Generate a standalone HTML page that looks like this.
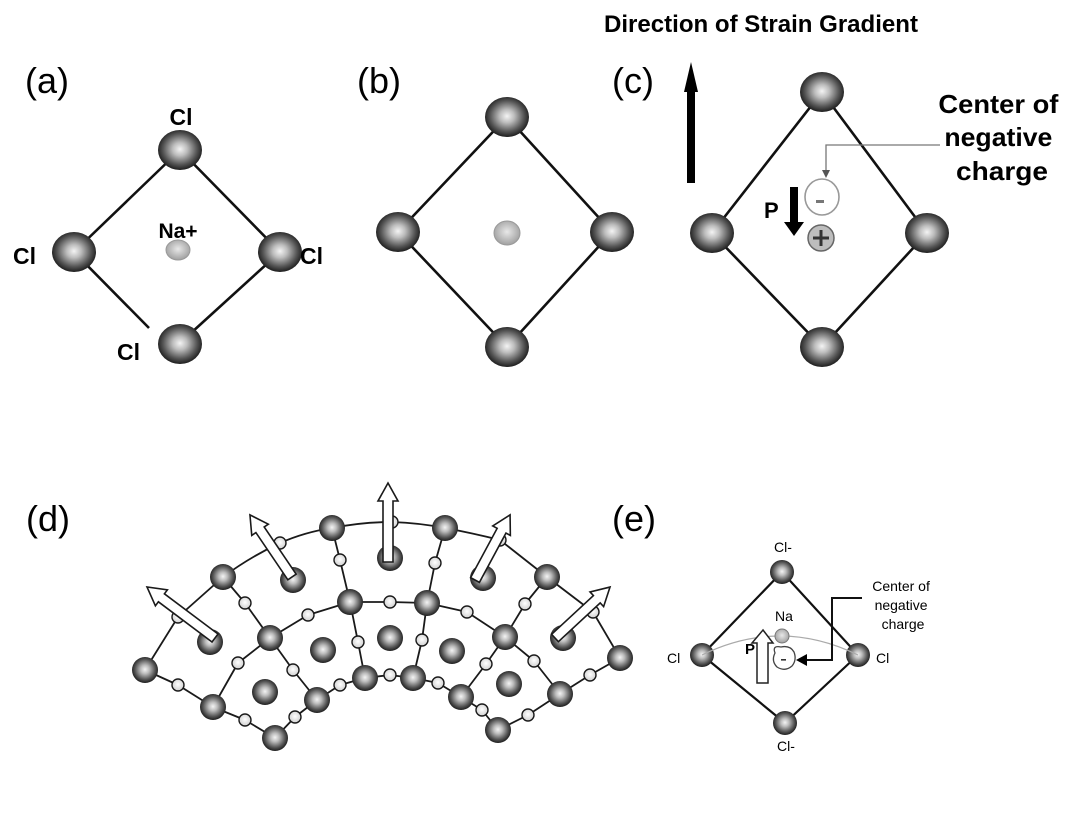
<!DOCTYPE html>
<html>
<head>
<meta charset="utf-8">
<style>
html,body{margin:0;padding:0;background:#fff;}
body{width:1071px;height:817px;overflow:hidden;}
svg{display:block;}
text{font-family:"Liberation Sans",Arial,sans-serif;fill:#000;}
</style>
</head>
<body>
<svg width="1071" height="817" viewBox="0 0 1071 817" xmlns="http://www.w3.org/2000/svg">
<defs>
  <radialGradient id="big" cx="50%" cy="48%" r="55%">
    <stop offset="0" stop-color="#f4f4f4"/>
    <stop offset="0.3" stop-color="#bdbdbd"/>
    <stop offset="0.7" stop-color="#555"/>
    <stop offset="1" stop-color="#111"/>
  </radialGradient>
  <radialGradient id="na" cx="50%" cy="45%" r="55%">
    <stop offset="0" stop-color="#e8e8e8"/>
    <stop offset="1" stop-color="#a0a0a0"/>
  </radialGradient>
  <radialGradient id="sm" cx="50%" cy="45%" r="55%">
    <stop offset="0" stop-color="#ffffff"/>
    <stop offset="1" stop-color="#d0d0d0"/>
  </radialGradient>
</defs>
<rect width="1071" height="817" fill="#fff"/>

<!-- Panel labels -->
<text x="25" y="93" font-size="36">(a)</text>
<text x="357" y="93" font-size="36">(b)</text>
<text x="612" y="93" font-size="36">(c)</text>
<text x="26" y="531" font-size="36">(d)</text>
<text x="612" y="531" font-size="36">(e)</text>

<!-- (a) -->
<g stroke="#111" stroke-width="2.6" fill="none">
  <line x1="180" y1="150" x2="74" y2="252"/>
  <line x1="180" y1="150" x2="280" y2="252"/>
  <line x1="74" y1="252" x2="149" y2="328"/>
  <line x1="280" y1="252" x2="180" y2="343"/>
</g>
<ellipse cx="180" cy="150" rx="22" ry="20" fill="url(#big)"/>
<ellipse cx="74" cy="252" rx="22" ry="20" fill="url(#big)"/>
<ellipse cx="280" cy="252" rx="22" ry="20" fill="url(#big)"/>
<ellipse cx="180" cy="344" rx="22" ry="20" fill="url(#big)"/>
<ellipse cx="178" cy="250" rx="12" ry="10" fill="url(#na)" stroke="#999" stroke-width="1"/>
<text x="181" y="125" font-size="23" text-anchor="middle" font-weight="bold">Cl</text>
<text x="178" y="238" font-size="21" text-anchor="middle" font-weight="bold">Na+</text>
<text x="13" y="264" font-size="23" font-weight="bold">Cl</text>
<text x="300" y="264" font-size="23" font-weight="bold">Cl</text>
<text x="117" y="360" font-size="23" font-weight="bold">Cl</text>

<!-- (b) -->
<g stroke="#111" stroke-width="2.6" fill="none">
  <polygon points="507,117 612,232 507,347 398,232"/>
</g>
<ellipse cx="507" cy="117" rx="22" ry="20" fill="url(#big)"/>
<ellipse cx="398" cy="232" rx="22" ry="20" fill="url(#big)"/>
<ellipse cx="612" cy="232" rx="22" ry="20" fill="url(#big)"/>
<ellipse cx="507" cy="347" rx="22" ry="20" fill="url(#big)"/>
<ellipse cx="507" cy="233" rx="13" ry="12" fill="url(#na)" stroke="#999" stroke-width="1"/>

<!-- (c) -->
<text x="604" y="32" font-size="24" font-weight="bold" textLength="314" lengthAdjust="spacingAndGlyphs">Direction of Strain Gradient</text>
<rect x="687" y="88" width="8" height="95" fill="#000"/>
<polygon points="691,62 684,92 698,92" fill="#000"/>
<g stroke="#111" stroke-width="2.6" fill="none">
  <polygon points="822,92 927,233 822,347 712,233"/>
</g>
<ellipse cx="822" cy="92" rx="22" ry="20" fill="url(#big)"/>
<ellipse cx="712" cy="233" rx="22" ry="20" fill="url(#big)"/>
<ellipse cx="927" cy="233" rx="22" ry="20" fill="url(#big)"/>
<ellipse cx="822" cy="347" rx="22" ry="20" fill="url(#big)"/>
<!-- callout -->
<polyline points="940,145 826,145 826,172" fill="none" stroke="#777" stroke-width="1.3"/>
<polygon points="822,170 830,170 826,178" fill="#555"/>
<ellipse cx="822" cy="197" rx="17" ry="18" fill="#fff" stroke="#999" stroke-width="1.6"/>
<rect x="816" y="200" width="8" height="3" fill="#777"/>
<circle cx="821" cy="238" r="13" fill="#bdbdbd" stroke="#666" stroke-width="1.5"/>
<rect x="813" y="236.5" width="16" height="3" fill="#333"/>
<rect x="819.5" y="230" width="3" height="16" fill="#333"/>
<text x="764" y="218" font-size="22" font-weight="bold">P</text>
<rect x="790" y="187" width="8" height="36" fill="#000"/>
<polygon points="784,222 804,222 794,236" fill="#000"/>
<text font-size="26" font-weight="bold" text-anchor="middle">
  <tspan x="1002" y="113" textLength="120" lengthAdjust="spacingAndGlyphs">Center of</tspan>
  <tspan x="1002" y="146" textLength="108" lengthAdjust="spacingAndGlyphs">negative</tspan>
  <tspan x="1002" y="180" textLength="92" lengthAdjust="spacingAndGlyphs">charge</tspan>
</text>

<!-- (d) lattice -->
<g stroke="#1a1a1a" stroke-width="1.8" fill="none" stroke-linejoin="round">
  <path d="M145,670 L178,617 L223,577 Q250,557 280,543 Q305,532 332,528 Q362,522 392,522 Q420,523 445,528 Q472,533 500,540 L547,577 L593,612 L620,658"/>
  <polyline points="145,670 178,685 213,707 245,720 275,738 295,717 317,700 340,685 365,678 390,675 413,678 438,683 461,697 482,710 498,730 528,715 560,694 590,675 620,658"/>
  <polyline points="223,577 245,603 270,638 238,663 213,707"/>
  <polyline points="270,638 293,670 317,700"/>
  <polyline points="270,638 308,615 350,602 390,602 427,603 467,612 505,637"/>
  <polyline points="332,528 340,560 350,602 358,642 365,678"/>
  <polyline points="445,528 435,563 427,603 422,640 413,678"/>
  <polyline points="547,577 525,604 505,637 486,664 461,697"/>
  <polyline points="505,637 534,661 560,694"/>
</g>
<g fill="url(#sm)" stroke="#1a1a1a" stroke-width="1.4">
  <circle cx="178" cy="617" r="6"/>
  <circle cx="280" cy="543" r="6"/>
  <circle cx="392" cy="522" r="6"/>
  <circle cx="500" cy="540" r="6"/>
  <circle cx="593" cy="612" r="6"/>
  <circle cx="178" cy="685" r="6"/>
  <circle cx="245" cy="720" r="6"/>
  <circle cx="295" cy="717" r="6"/>
  <circle cx="340" cy="685" r="6"/>
  <circle cx="390" cy="675" r="6"/>
  <circle cx="438" cy="683" r="6"/>
  <circle cx="482" cy="710" r="6"/>
  <circle cx="528" cy="715" r="6"/>
  <circle cx="590" cy="675" r="6"/>
  <circle cx="245" cy="603" r="6"/>
  <circle cx="238" cy="663" r="6"/>
  <circle cx="293" cy="670" r="6"/>
  <circle cx="308" cy="615" r="6"/>
  <circle cx="390" cy="602" r="6"/>
  <circle cx="467" cy="612" r="6"/>
  <circle cx="340" cy="560" r="6"/>
  <circle cx="358" cy="642" r="6"/>
  <circle cx="435" cy="563" r="6"/>
  <circle cx="422" cy="640" r="6"/>
  <circle cx="525" cy="604" r="6"/>
  <circle cx="486" cy="664" r="6"/>
  <circle cx="534" cy="661" r="6"/>
</g>
<g fill="url(#big)">
  <circle cx="145" cy="670" r="13"/>
  <circle cx="223" cy="577" r="13"/>
  <circle cx="332" cy="528" r="13"/>
  <circle cx="445" cy="528" r="13"/>
  <circle cx="547" cy="577" r="13"/>
  <circle cx="620" cy="658" r="13"/>
  <circle cx="293" cy="580" r="13"/>
  <circle cx="390" cy="558" r="13"/>
  <circle cx="483" cy="578" r="13"/>
  <circle cx="210" cy="642" r="13"/>
  <circle cx="563" cy="638" r="13"/>
  <circle cx="350" cy="602" r="13"/>
  <circle cx="427" cy="603" r="13"/>
  <circle cx="270" cy="638" r="13"/>
  <circle cx="505" cy="637" r="13"/>
  <circle cx="323" cy="650" r="13"/>
  <circle cx="390" cy="638" r="13"/>
  <circle cx="452" cy="651" r="13"/>
  <circle cx="265" cy="692" r="13"/>
  <circle cx="509" cy="684" r="13"/>
  <circle cx="213" cy="707" r="13"/>
  <circle cx="317" cy="700" r="13"/>
  <circle cx="365" cy="678" r="13"/>
  <circle cx="413" cy="678" r="13"/>
  <circle cx="461" cy="697" r="13"/>
  <circle cx="560" cy="694" r="13"/>
  <circle cx="275" cy="738" r="13"/>
  <circle cx="498" cy="730" r="13"/>
</g>
<!-- hollow arrows -->
<g fill="#fff" stroke="#1a1a1a" stroke-width="1.6" stroke-linejoin="miter">
  <path transform="translate(215,638) rotate(216.87)" d="M0,-5 L67,-5 L67,-10 L85,0 L67,10 L67,5 L0,5 Z"/>
  <path transform="translate(292,577) rotate(235.9)" d="M0,-5 L57,-5 L57,-10 L75,0 L57,10 L57,5 L0,5 Z"/>
  <path transform="translate(388,562) rotate(-90)" d="M0,-5 L61,-5 L61,-10 L79,0 L61,10 L61,5 L0,5 Z"/>
  <path transform="translate(475,580) rotate(-61.7)" d="M0,-5 L56,-5 L56,-10 L74,0 L56,10 L56,5 L0,5 Z"/>
  <path transform="translate(555,638) rotate(-42.8)" d="M0,-5 L57,-5 L57,-10 L75,0 L57,10 L57,5 L0,5 Z"/>
</g>

<!-- (e) -->
<g stroke="#111" stroke-width="2.2" fill="none">
  <polygon points="782,572 858,655 785,723 702,655"/>
</g>
<circle cx="782" cy="572" r="12" fill="url(#big)"/>
<circle cx="702" cy="655" r="12" fill="url(#big)"/>
<circle cx="858" cy="655" r="12" fill="url(#big)"/>
<circle cx="785" cy="723" r="12" fill="url(#big)"/>
<path d="M702,655 Q780,617 858,655" fill="none" stroke="#aaa" stroke-width="1.2"/>
<circle cx="782" cy="636" r="7" fill="url(#na)" stroke="#777" stroke-width="1"/>
<path d="M775,653 Q772,645 781,647 Q790,645 794,652 Q797,660 792,666 Q785,672 777,667 Q771,661 775,653 Z" fill="#fff" stroke="#444" stroke-width="1.3"/>
<rect x="781" y="659" width="5" height="1.6" fill="#333"/>
<path d="M757,683 L757,643 L752,643 L763,630 L773,643 L768,643 L768,683 Z" fill="#fff" stroke="#222" stroke-width="1.5"/>
<text x="745" y="654" font-size="15" font-weight="bold">P</text>
<polyline points="862,598 832,598 832,660 805,660" fill="none" stroke="#111" stroke-width="2"/>
<polygon points="796,660 807,654 807,666" fill="#000"/>
<text font-size="14" text-anchor="middle" fill="#222">
  <tspan x="903" y="591">Center of</tspan>
  <tspan x="903" y="610">negative</tspan>
  <tspan x="903" y="629">charge</tspan>
</text>
<text x="783" y="552" font-size="14" text-anchor="middle">Cl-</text>
<text x="667" y="663" font-size="14">Cl</text>
<text x="876" y="663" font-size="14">Cl</text>
<text x="784" y="621" font-size="14" text-anchor="middle">Na</text>
<text x="786" y="751" font-size="14" text-anchor="middle">Cl-</text>
</svg>
</body>
</html>
